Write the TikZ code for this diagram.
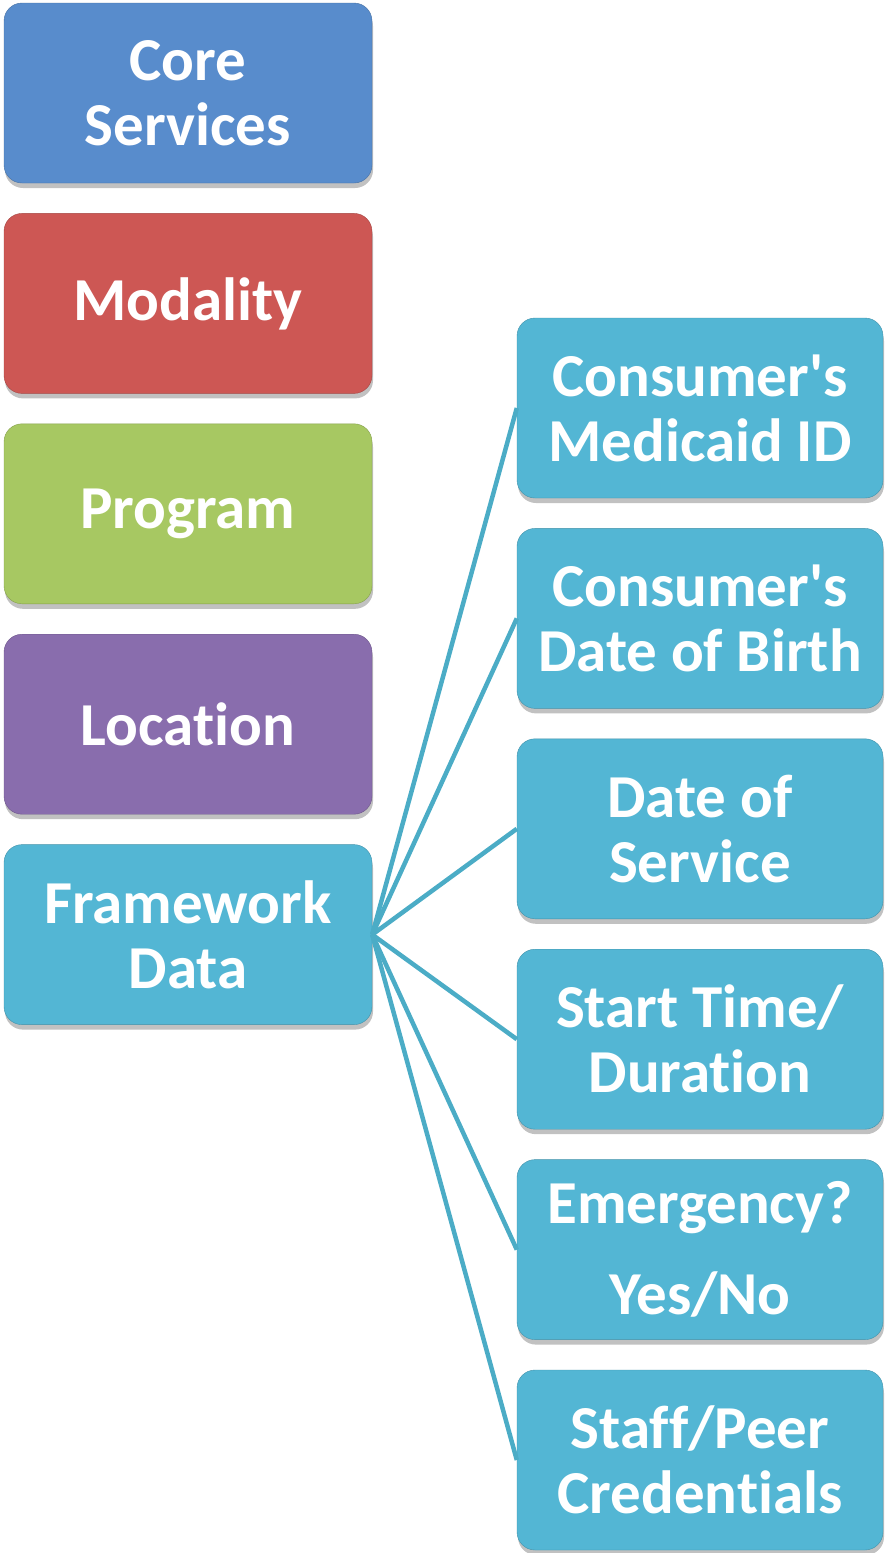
\documentclass[tikz,border=0pt]{standalone}
\usepackage{fontspec}
\setmainfont{Carlito}[Ligatures={TeXOff,CommonOff,ContextualOff,RequiredOff},Contextuals=AlternateOff]
\usetikzlibrary{positioning,shadows}

\begin{document}
\begin{tikzpicture}[x=1pt, y=-1pt,
    box/.style={rounded corners=18pt, minimum width=368pt, minimum height=180pt,
        inner sep=0pt, align=center, text=white,
        font=\fontsize{61}{65}\selectfont\bfseries,
        drop shadow={shadow xshift=1pt, shadow yshift=-5pt, opacity=0.35, fill=black!70}},
    link/.style={draw=aqua_line, line width=4.5pt}]
    \def\lx{188}
    \def\ly{93}
    \def\rx{700}
    \def\ry{408}
    \def\gap{30pt}
    \definecolor{core_blue}{RGB}{88, 140, 204}
    \definecolor{mod_red}{RGB}{205, 87, 84}
    \definecolor{prog_green}{RGB}{167, 200, 98}
    \definecolor{loc_purple}{RGB}{137, 109, 173}
    \definecolor{aqua}{RGB}{83, 182, 212}
    \definecolor{aqua_line}{RGB}{75, 172, 198}

    \useasboundingbox (0, 0) rectangle (886, 1553);

    % left column
    \node[box, fill=core_blue, draw=core_blue!80!black] (core) at (\lx, \ly) {Core\\Services};
    \node[box, fill=mod_red, draw=mod_red!80!black, below=\gap of core] (modality) {Modality};
    \node[box, fill=prog_green, draw=prog_green!80!black, below=\gap of modality] (program) {Program};
    \node[box, fill=loc_purple, draw=loc_purple!80!black, below=\gap of program] (location) {Location};
    \node[box, fill=aqua, draw=aqua!80!black, below=\gap of location] (framework) {Framework\\Data};

    % right column
    \node[box, minimum width=366pt, fill=aqua, draw=aqua!80!black] (medicaid) at (\rx, \ry) {Consumer's\\Medicaid ID};
    \node[box, minimum width=366pt, fill=aqua, draw=aqua!80!black, below=\gap of medicaid] (birth) {Consumer's\\Date of Birth};
    \node[box, minimum width=366pt, fill=aqua, draw=aqua!80!black, below=\gap of birth] (service) {Date of\\Service};
    \node[box, minimum width=366pt, fill=aqua, draw=aqua!80!black, below=\gap of service] (start) {Start Time/\\Duration};
    \node[box, minimum width=366pt, fill=aqua, draw=aqua!80!black, below=\gap of start] (emergency) {Emergency?\\[26pt]Yes/No};
    \node[box, minimum width=366pt, fill=aqua, draw=aqua!80!black, below=\gap of emergency] (staff) {Staff/Peer\\Credentials};

    % fan of links
    \foreach \t in {medicaid, birth, service, start, emergency, staff}
        \draw[link] (framework.east) -- (\t.west);
\end{tikzpicture}
\end{document}
